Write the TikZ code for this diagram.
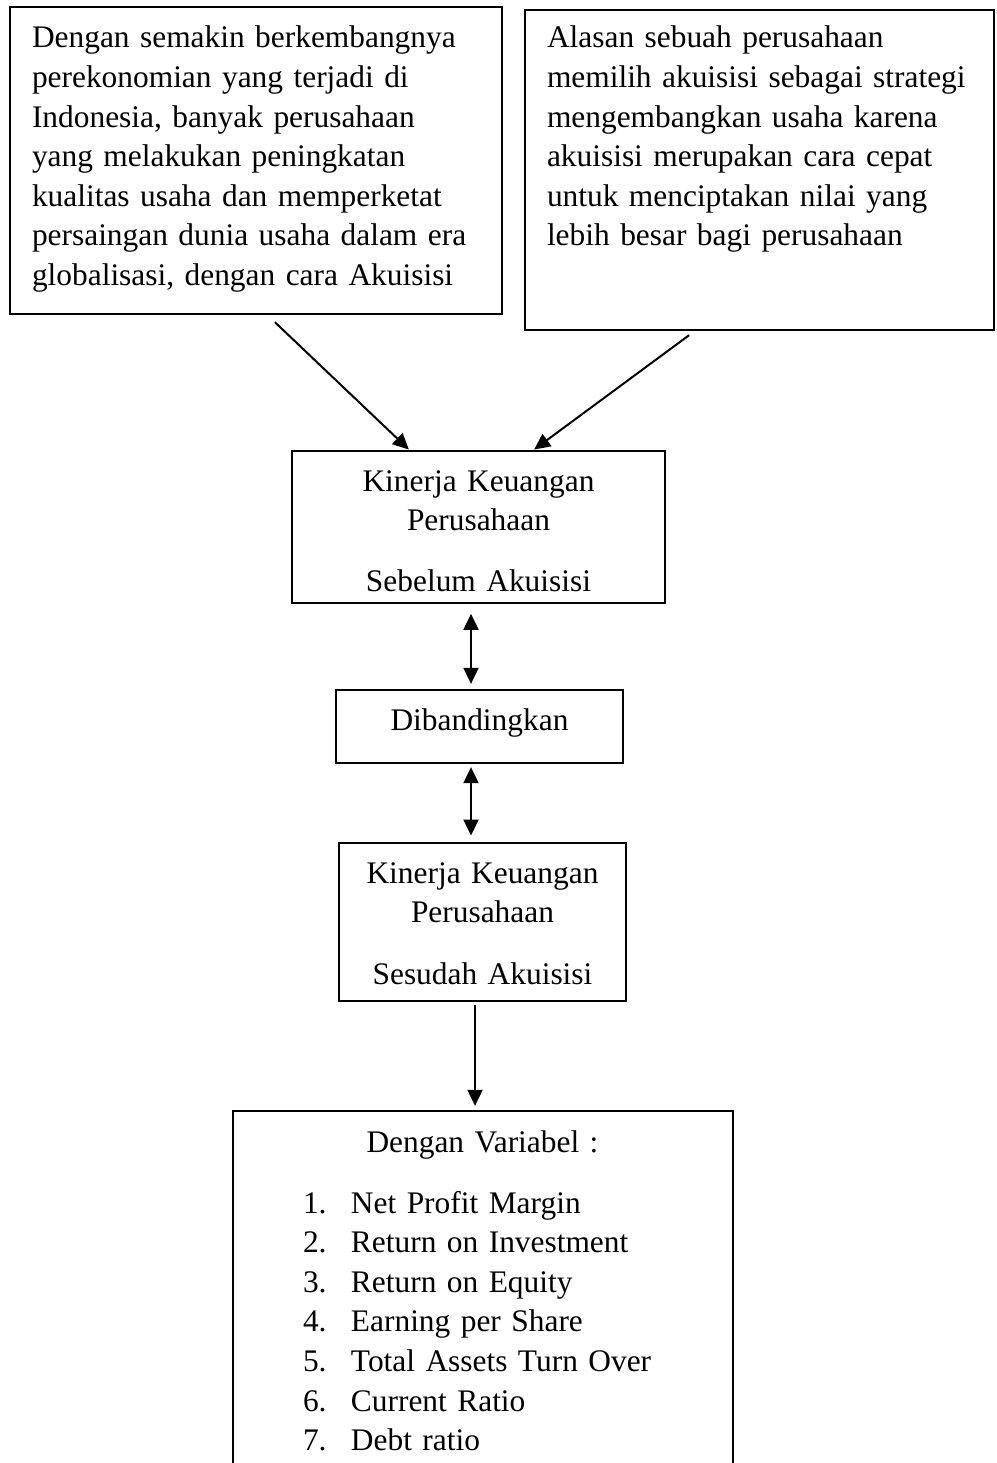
\documentclass[tikz,border=0pt]{standalone}
\usepackage{fontspec}
\setmainfont{Liberation Serif}
\usetikzlibrary{arrows.meta, positioning}

\begin{document}
\begin{tikzpicture}[
  x=1pt, y=-1pt,
  kotak/.style={draw, line width=2.3pt, inner ysep=0pt, font=\fontsize{31.4}{39.6}\selectfont},
  panah/.style={-{Triangle[length=16pt,width=15pt]}, line width=2pt},
  panahdua/.style={{Triangle[length=16pt,width=15pt]}-{Triangle[length=16pt,width=15pt]}, line width=2pt}
]
  \useasboundingbox (0,0) rectangle (996,1463);

  \node[kotak, inner xsep=22pt, text width=448pt, text height=41pt, text depth=266pt, align=left] (latar) at (256,160.5) {
    Dengan semakin berkembangnya\\
    perekonomian yang terjadi di\\
    Indonesia, banyak perusahaan\\
    yang melakukan peningkatan\\
    kualitas usaha dan memperketat\\
    persaingan dunia usaha dalam era\\
    globalisasi, dengan cara Akuisisi
  };
  \node[kotak, inner xsep=22pt, text width=425pt, text height=38pt, text depth=282pt, align=left] (alasan) at (759.5,170) {
    Alasan sebuah perusahaan\\
    memilih akuisisi sebagai strategi\\
    mengembangkan usaha karena\\
    akuisisi merupakan cara cepat\\
    untuk menciptakan nilai yang\\
    lebih besar bagi perusahaan
  };

  \node[kotak, inner xsep=10pt, text width=353pt, text height=40.3pt, text depth=111.7pt, align=center] (sebelum) at (478.5,526.7) {
    Kinerja Keuangan\\
    Perusahaan\\[21pt]
    Sebelum Akuisisi
  };
  \node[kotak, inner xsep=10pt, text width=267pt, text height=40pt, text depth=33pt, align=center] (banding) at (479.5,726.5) {
    Dibandingkan
  };
  \node[kotak, inner xsep=10pt, text width=267pt, text height=40.3pt, text depth=118pt, align=center] (sesudah) at (482.5,921.85) {
    Kinerja Keuangan\\
    Perusahaan\\[22pt]
    Sesudah Akuisisi
  };

  % variabel yang dibandingkan
  \node[kotak, inner xsep=0pt, text width=500pt, text height=41pt, text depth=349pt, align=left] (variabel) at (483,1306) {
    \hspace*{133.5pt}Dengan Variabel :\\[21.5pt]
    \hspace*{70pt}\makebox[48pt][l]{1.}Net Profit Margin\\
    \hspace*{70pt}\makebox[48pt][l]{2.}Return on Investment\\
    \hspace*{70pt}\makebox[48pt][l]{3.}Return on Equity\\
    \hspace*{70pt}\makebox[48pt][l]{4.}Earning per Share\\
    \hspace*{70pt}\makebox[48pt][l]{5.}Total Assets Turn Over\\
    \hspace*{70pt}\makebox[48pt][l]{6.}Current Ratio\\
    \hspace*{70pt}\makebox[48pt][l]{7.}Debt ratio
  };

  \draw[panah] ([xshift=266pt, yshift=-7pt]latar.south west) -- ([xshift=118pt]sebelum.north west);
  \draw[panah] ([xshift=-306pt, yshift=-4pt]alasan.south east) -- ([xshift=-132pt]sebelum.north east);
  \draw[panahdua, shorten <=10pt, shorten >=5pt] ([xshift=-7.5pt]sebelum.south) -- ([xshift=-8.5pt]banding.north);
  \draw[panahdua, shorten <=3pt, shorten >=6pt] ([xshift=-8.5pt]banding.south) -- ([xshift=-11.5pt]sesudah.north);
  \draw[panah, shorten <=3pt, shorten >=4pt] ([xshift=-7.5pt]sesudah.south) -- ([xshift=-8pt]variabel.north);
\end{tikzpicture}
\end{document}
